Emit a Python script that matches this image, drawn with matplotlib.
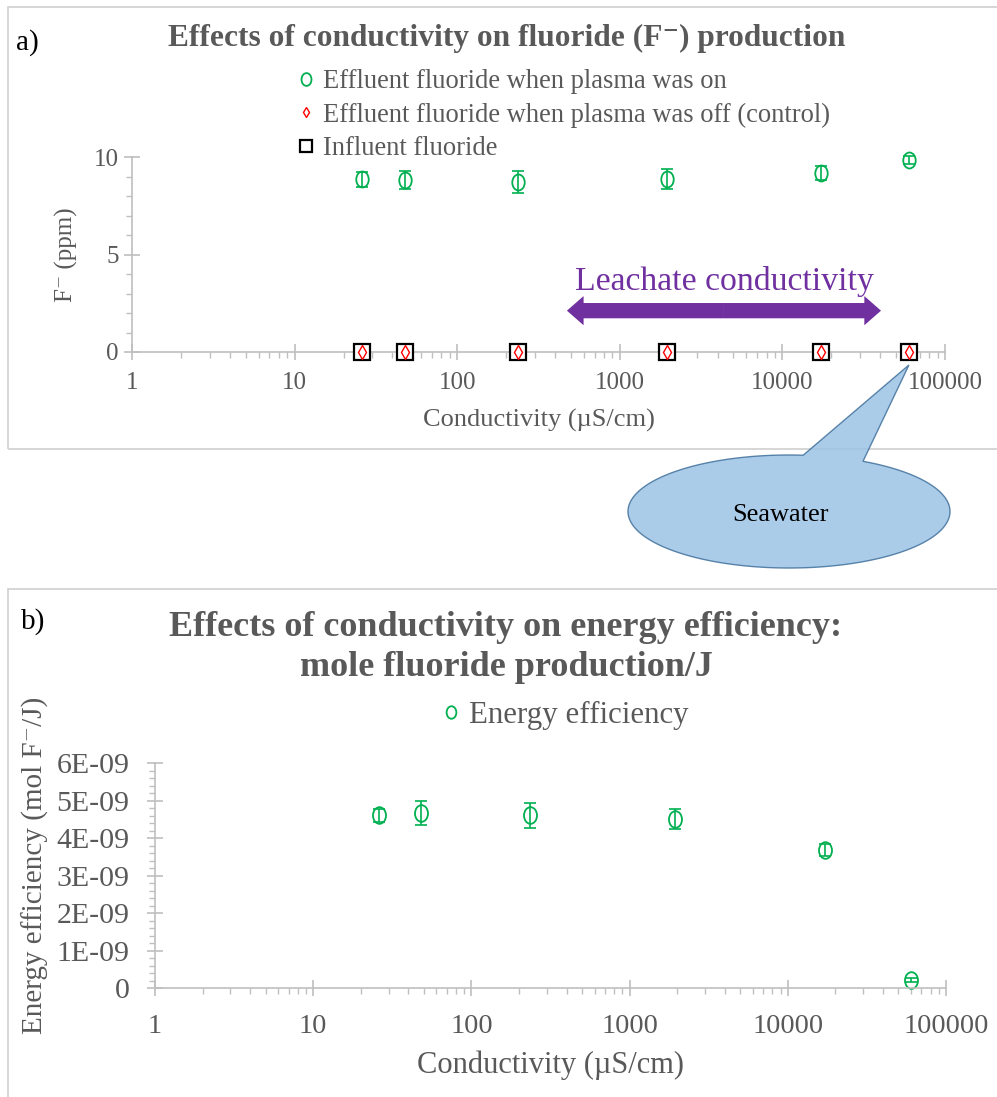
import numpy as np
import matplotlib
matplotlib.use("Agg")
import matplotlib.pyplot as plt
from matplotlib.patches import Rectangle, Polygon
from matplotlib.path import Path
from matplotlib.transforms import Affine2D
from matplotlib.ticker import LogLocator, NullFormatter, MultipleLocator

# ---------------- data ----------------
conductivity = [26, 48, 236, 1960, 17200, 60000]
f_plasma_on = [8.86, 8.82, 8.72, 8.86, 9.16, 9.85]
f_plasma_on_err = [0.38, 0.45, 0.56, 0.51, 0.36, 0.20]
f_plasma_off = [0, 0, 0, 0, 0, 0]
f_influent = [0, 0, 0, 0, 0, 0]

conductivity_b = [26, 48, 234, 1950, 17100, 60000]
energy_eff = [4.61e-9, 4.67e-9, 4.61e-9, 4.51e-9, 3.68e-9, 0.22e-9]
energy_eff_err = [0.17e-9, 0.32e-9, 0.33e-9, 0.27e-9, 0.16e-9, 0.05e-9]

x_ticks = [1, 10, 100, 1000, 10000, 100000]
x_tick_labels = ["1", "10", "100", "1000", "10000", "100000"]
ya_ticks = [0, 5, 10]
ya_tick_labels = ["0", "5", "10"]
yb_ticks = [0, 1e-9, 2e-9, 3e-9, 4e-9, 5e-9, 6e-9]
yb_tick_labels = ["0", "1E-09", "2E-09", "3E-09", "4E-09", "5E-09", "6E-09"]

leachate_range = [473, 40400]
seawater_conductivity = 60000

labels_a = ["Effluent fluoride when plasma was on",
            "Effluent fluoride when plasma was off (control)",
            "Influent fluoride"]
label_b = "Energy efficiency"

# ---------------- style ----------------
plt.rcParams['font.family'] = ['Liberation Serif', 'DejaVu Serif']
GREEN = '#00B050'
GREY_TXT = '#595959'
AXIS_C = '#BFBFBF'
PURPLE = '#7030A0'

# tall oval marker (as in the reference)
OVAL = Path(Affine2D().scale(0.78, 1.0).transform(Path.unit_circle().vertices),
            Path.unit_circle().codes)

W, H = 997, 1097
def fx(px):
    return px / W
def fy(py):
    return 1 - py / H

fig = plt.figure(figsize=(W / 100, H / 100), dpi=100)

# panel frames
fig.add_artist(Rectangle((fx(8), fy(449)), fx(1010) - fx(8), fy(7) - fy(449),
                         transform=fig.transFigure, fill=False,
                         edgecolor='#D0D0D0', lw=1.2, zorder=0))
fig.add_artist(Rectangle((fx(8), fy(1110)), fx(1010) - fx(8), fy(589) - fy(1110),
                         transform=fig.transFigure, fill=False,
                         edgecolor='#D0D0D0', lw=1.2, zorder=0))


def style_axes(ax, labelsize, xpad, ypad, ticklen):
    ax.set_xscale('log')
    ax.set_xlim(1, 1e5)
    for s in ['top', 'right']:
        ax.spines[s].set_visible(False)
    for s in ['left', 'bottom']:
        ax.spines[s].set_color(AXIS_C)
        ax.spines[s].set_linewidth(1.2)
    ax.set_xticks(x_ticks, x_tick_labels)
    ax.xaxis.set_minor_locator(LogLocator(base=10, subs=np.arange(2, 10)))
    ax.xaxis.set_minor_formatter(NullFormatter())
    ax.tick_params(which='major', direction='inout', length=ticklen, width=1.2,
                   color=AXIS_C, labelsize=labelsize, labelcolor=GREY_TXT)
    ax.tick_params(axis='x', which='major', pad=xpad)
    ax.tick_params(axis='y', which='major', pad=ypad)
    ax.tick_params(which='minor', direction='out', length=4, width=1.0, color=AXIS_C)
    ax.patch.set_alpha(0)


# ---------------- panel a ----------------
ax1 = fig.add_axes([fx(132), fy(352), (945 - 132) / W, (352 - 157) / H])
style_axes(ax1, 18, 8.5, 3.5, 12)
ax1.set_ylim(0, 10)
ax1.set_yticks(ya_ticks, ya_tick_labels)
ax1.yaxis.set_minor_locator(MultipleLocator(1))

ax1.errorbar(conductivity, f_plasma_on, yerr=f_plasma_on_err, fmt='none',
             ecolor=GREEN, elinewidth=1.2, capsize=4, capthick=1.2, clip_on=False)
h_on, = ax1.plot(conductivity, f_plasma_on, marker=OVAL, ls='none', mfc='none',
                 mec=GREEN, ms=11.5, mew=1.3, clip_on=False, label=labels_a[0])
h_inf, = ax1.plot(conductivity, f_influent, 's', mfc='white', mec='black', ms=11,
                  mew=1.6, clip_on=False, label=labels_a[2], zorder=4)
h_off, = ax1.plot(conductivity, f_plasma_off, 'd', mfc='white', mec='red', ms=7,
                  mew=1.0, clip_on=False, label=labels_a[1], zorder=5)

fig.legend([h_on, h_off, h_inf], labels_a, loc='upper left',
           bbox_to_anchor=(fx(296), fy(69)), bbox_transform=fig.transFigure,
           frameon=False, fontsize=19.1, labelcolor=GREY_TXT, handlelength=0.75,
           handletextpad=0.25, labelspacing=0.32, borderpad=0, borderaxespad=0,
           markerscale=0.8)

ax1.set_xlabel("Conductivity (µS/cm)", fontsize=19, color=GREY_TXT, va='center')
ax1.xaxis.set_label_coords(0.5, (352 - 420) / 195)
ax1.set_ylabel("F⁻ (ppm)", fontsize=18, color=GREY_TXT, va='center')
ax1.yaxis.set_label_coords((66 - 132) / 813, 0.5)

# leachate arrow (two halves from the geometric centre)
lmid = np.sqrt(leachate_range[0] * leachate_range[1])
for end in leachate_range:
    ax1.annotate('', xy=(end, 2.12), xytext=(lmid, 2.12),
                 arrowprops=dict(arrowstyle='simple,head_length=0.6,head_width=1.05,tail_width=0.55',
                                 color=PURPLE, lw=0, mutation_scale=20,
                                 shrinkA=0, shrinkB=0))
ax1.text(lmid, 3.18, "Leachate conductivity", color=PURPLE, fontsize=24.3,
         ha='center', va='baseline')

fig.text(fx(507), fy(38), "Effects of conductivity on fluoride (F⁻) production",
         ha='center', va='center', fontsize=22.6, weight='bold', color=GREY_TXT)
fig.text(fx(27), fy(43), "a)", ha='center', va='center', fontsize=21, color='black')

# ---------------- panel b ----------------
ax2 = fig.add_axes([fx(155), fy(988.3), (946 - 155) / W, (988.3 - 763.3) / H])
style_axes(ax2, 20.5, 13, 12.5, 11.5)
ax2.tick_params(axis='y', which='major', labelsize=21.5)
ax2.set_ylim(0, 6e-9)
ax2.set_yticks(yb_ticks, yb_tick_labels)
ax2.yaxis.set_minor_locator(MultipleLocator(0.2e-9))

ax2.errorbar(conductivity_b, energy_eff, yerr=energy_eff_err, fmt='none',
             ecolor=GREEN, elinewidth=1.2, capsize=4, capthick=1.2, clip_on=False)
h_eff, = ax2.plot(conductivity_b, energy_eff, marker=OVAL, ls='none', mfc='none',
                  mec=GREEN, ms=12, mew=1.3, clip_on=False, label=label_b)

fig.legend([h_eff], [label_b], loc='upper left',
           bbox_to_anchor=(fx(440), fy(701)), bbox_transform=fig.transFigure,
           frameon=False, fontsize=22.2, labelcolor=GREY_TXT, handlelength=0.7,
           handletextpad=0.25, borderpad=0, borderaxespad=0, markerscale=0.75)

ax2.set_xlabel("Conductivity (µS/cm)", fontsize=22, color=GREY_TXT, va='center')
ax2.xaxis.set_label_coords(0.5, (988.3 - 1065) / 225)
ax2.set_ylabel("Energy efficiency (mol F⁻/J)", fontsize=21, color=GREY_TXT, va='center')
ax2.yaxis.set_label_coords((35 - 155) / 791, (988.3 - 865) / 225)

fig.text(fx(506), fy(648),
         "Effects of conductivity on energy efficiency:\nmole fluoride production/J",
         ha='center', va='center', fontsize=26, weight='bold', color=GREY_TXT,
         linespacing=1.28)
fig.text(fx(33), fy(622), "b)", ha='center', va='center', fontsize=21, color='black')

# ---------------- seawater callout ----------------
tip_disp = ax1.transData.transform((seawater_conductivity, 0))
tip_px = (tip_disp[0], tip_disp[1] - 13)          # display coords (y up)
cx, cy, a, b = 789, H - 511.5, 161, 56.5          # ellipse in display px (y up)
t_right = np.arctan2((H - 462 - cy) / b, (862 - cx) / a)
t_left = np.arctan2((H - 456 - cy) / b, (803 - cx) / a)
if t_left < t_right:
    t_left += 2 * np.pi
ts = np.linspace(t_left, t_right + 2 * np.pi, 240)
pts = np.column_stack([cx + a * np.cos(ts), cy + b * np.sin(ts)])
pts = np.vstack([pts, tip_px])
pts_fig = pts / np.array([W, H])
fig.add_artist(Polygon(pts_fig, closed=True, transform=fig.transFigure,
                       facecolor='#9DC3E6', edgecolor='#41719C', lw=1.0,
                       alpha=0.85, zorder=6))
fig.text(fx(780), fy(515), "Seawater", ha='center', va='center', fontsize=19,
         color='black', zorder=7)

fig.savefig("out.png", dpi=100)
